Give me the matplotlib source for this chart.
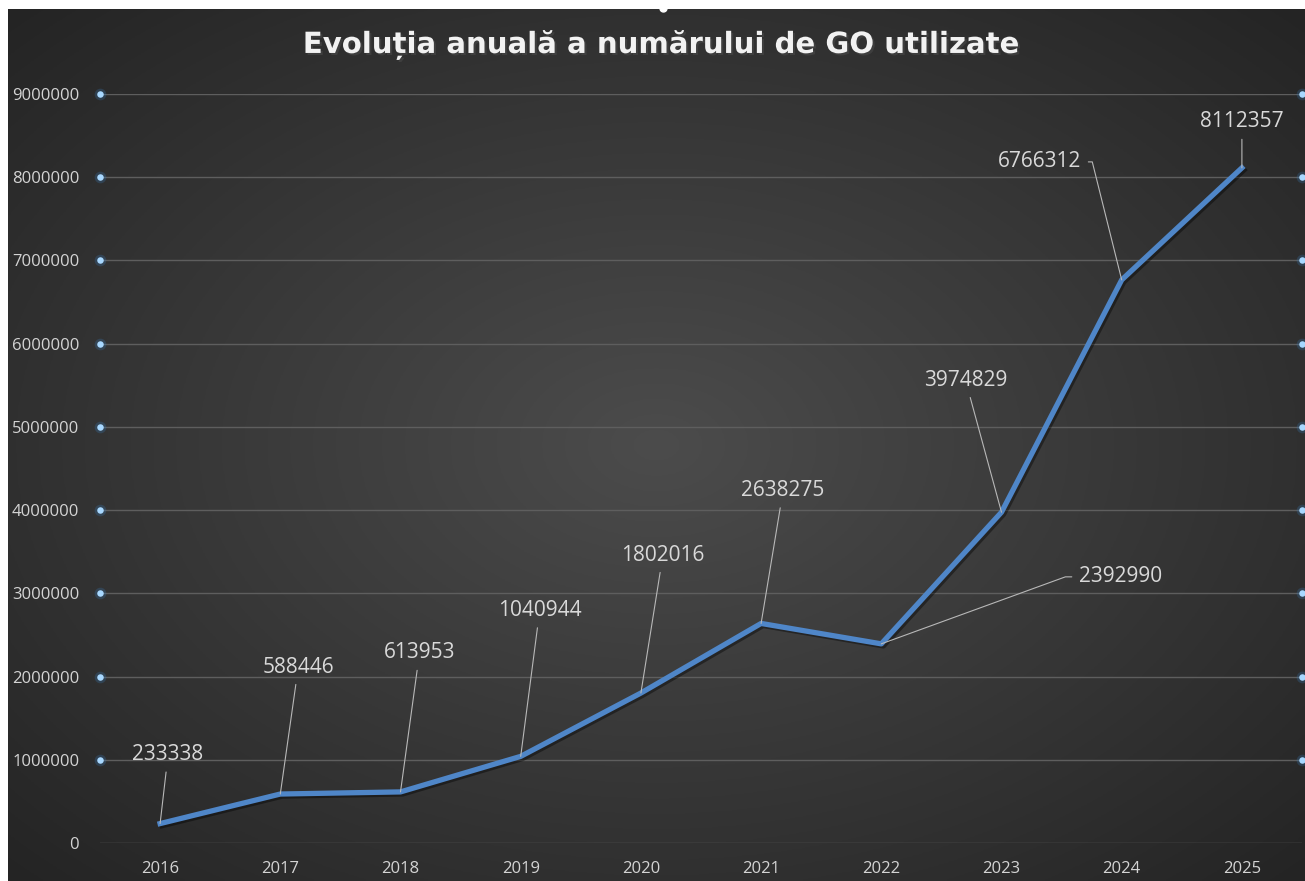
import matplotlib.pyplot as plt
import matplotlib.patheffects as pe
import numpy as np

# Data
years = ['2016', '2017', '2018', '2019', '2020', '2021', '2022', '2023', '2024', '2025']
go_used = [233338, 588446, 613953, 1040944, 1802016, 2638275, 2392990, 3974829, 6766312, 8112357]
y_ticks = [0, 1000000, 2000000, 3000000, 4000000, 5000000, 6000000, 7000000, 8000000, 9000000]

title = 'Evoluția anuală a numărului de GO utilizate'

# label placement (offset in pixels from the point) and leader style
label_offsets = [(8, 69), (18, 127), (19, 139), (19, 146), (22, 138),
                 (22, 133), (239, 67), (-36, 132), (-82, 118), (0, 46)]
leader_relpos = {6: (0, 0.5), 8: (1, 0.5)}
leader_conn = {6: 'angle,angleA=0,angleB=20,rad=0', 8: 'angle,angleA=0,angleB=104,rad=0'}

W, H = 1305, 881
fig = plt.figure(figsize=(W / 100, H / 100), dpi=100)
fig.patch.set_facecolor('white')

# dark radial gradient background
bg = fig.add_axes([8 / W, 0, 1 - 8 / W, 1 - 9 / H])
bg.set_zorder(-10)
gx, gy = np.meshgrid(np.linspace(-1, 1, 400), np.linspace(-1, 1, 300))
r = np.clip(np.sqrt(gx ** 2 + gy ** 2) / np.sqrt(2), 0, 1)
shade = (76 - (76 - 36) * r) / 255.0
bg.imshow(np.dstack([shade, shade, shade]), aspect='auto', extent=[0, 1, 0, 1])
bg.axis('off')
bg.plot(663 / W, 1 - 8 / H, 'o', color='white', ms=5, transform=fig.transFigure, clip_on=False)

ax = fig.add_axes([100 / W, 38 / H, 1202 / W, 749 / H])
ax.patch.set_alpha(0)
x = np.arange(len(years))

ax.set_xlim(-0.5, len(years) - 0.5)
ax.set_ylim(0, 9000000)
for s in ax.spines.values():
    s.set_visible(False)

ax.set_yticks(y_ticks)
ax.set_yticklabels([str(v) for v in y_ticks])
ax.set_xticks(x)
ax.set_xticklabels(years)
ax.tick_params(axis='y', length=0, pad=15, labelsize=12, labelcolor='#d4d4d4')
ax.tick_params(axis='x', length=0, pad=13, labelsize=12, labelcolor='#d4d4d4')
for lab in ax.get_xticklabels() + ax.get_yticklabels():
    lab.set_fontfamily('Open Sans')

ax.grid(axis='y', color='#5e5e5e', lw=1)
ax.set_axisbelow(True)

# glowing dots on both ends of each gridline
for xe in [-0.5, len(years) - 0.5]:
    ax.scatter([xe] * 9, y_ticks[1:], s=70, color='#3a7fc0', alpha=0.25, lw=0, clip_on=False, zorder=3)
    ax.scatter([xe] * 9, y_ticks[1:], s=22, color='#a8d8ff', lw=0, clip_on=False, zorder=4)

ax.plot(x, go_used, color='#4f86c8', lw=3.8, solid_joinstyle='round', zorder=5,
        path_effects=[pe.SimpleLineShadow(offset=(1.5, -1.5), alpha=0.4), pe.Normal()])

for i, v in enumerate(go_used):
    arrow = dict(arrowstyle='-', color='#b8b8b8', lw=0.8, shrinkA=3, shrinkB=0)
    if i in leader_relpos:
        arrow['relpos'] = leader_relpos[i]
        arrow['connectionstyle'] = leader_conn[i]
    ax.annotate(str(v), xy=(x[i], v), xytext=label_offsets[i], textcoords='offset pixels',
                ha='center', va='center', fontsize=15, color='#d9d9d9', family='Open Sans',
                arrowprops=arrow, zorder=6)

fig.text(661 / W, 1 - 45 / H, title, ha='center', va='center', fontsize=21,
         fontweight='bold', color='#f2f2f2', family='DejaVu Sans',
         path_effects=[pe.withSimplePatchShadow(offset=(1.5, -1.5), alpha=0.6)])

fig.savefig('out.png', dpi=100, facecolor=fig.get_facecolor())
